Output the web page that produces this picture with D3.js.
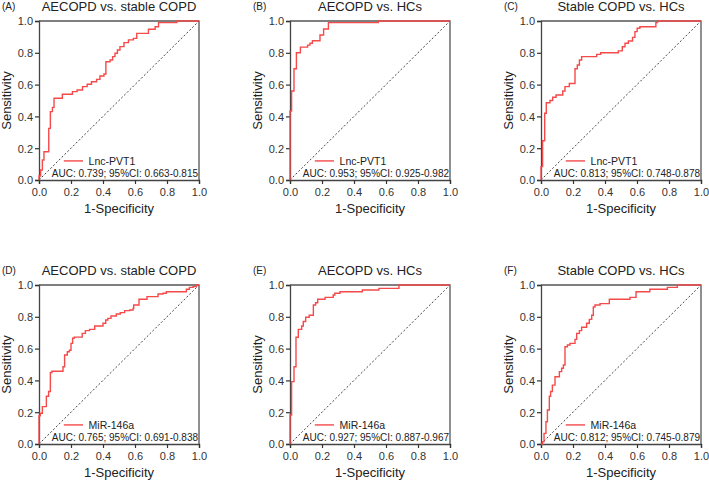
<!DOCTYPE html>
<html>
<head>
<meta charset="utf-8">
<script src="https://cdn.jsdelivr.net/npm/d3@7"></script>
<style>
    body { margin: 0; background: #fff; }
    text { font-family: "Liberation Sans", Arial, sans-serif; }
</style>
</head>
<body>
<div id="chart"></div>
<script>

// ROC curve step points, [1 - specificity, sensitivity]
const rocA = [[0,0],[0,0.025],[0.01,0.063],[0.021,0.126],[0.031,0.178],[0.061,0.325],[0.071,0.43],[0.084,0.457],[0.094,0.514],[0.146,0.539],[0.209,0.556],[0.238,0.566],[0.272,0.587],[0.301,0.602],[0.328,0.618],[0.36,0.633],[0.381,0.654],[0.406,0.667],[0.418,0.744],[0.444,0.755],[0.46,0.776],[0.475,0.797],[0.49,0.818],[0.506,0.839],[0.531,0.864],[0.559,0.881],[0.59,0.891],[0.611,0.922],[0.684,0.948],[0.726,0.964],[0.747,0.99],[0.862,1],[1,1]];
const rocB = [[0,0],[0,0.434],[0.01,0.56],[0.025,0.70],[0.04,0.80],[0.065,0.836],[0.11,0.848],[0.125,0.86],[0.14,0.876],[0.1875,0.912],[0.21,0.95],[0.24,0.99],[0.552,1],[1,1]];
const rocC = [[0,0],[0,0.084],[0.01,0.247],[0.023,0.42],[0.033,0.486],[0.056,0.50],[0.073,0.52],[0.094,0.535],[0.136,0.56],[0.15,0.587],[0.177,0.607],[0.2125,0.70],[0.227,0.723],[0.24,0.755],[0.254,0.776],[0.348,0.79],[0.373,0.80],[0.483,0.812],[0.508,0.838],[0.525,0.86],[0.546,0.874],[0.572,0.897],[0.587,0.933],[0.601,0.954],[0.618,0.964],[0.718,0.99],[0.728,1],[1,1]];
const rocD = [[0,0],[0,0.178],[0.008,0.193],[0.021,0.235],[0.046,0.30],[0.06,0.33],[0.071,0.45],[0.081,0.458],[0.15,0.486],[0.16,0.56],[0.177,0.58],[0.19,0.59],[0.2,0.633],[0.21,0.665],[0.22,0.672],[0.27,0.696],[0.29,0.713],[0.316,0.721],[0.348,0.742],[0.4,0.759],[0.417,0.78],[0.43,0.79],[0.45,0.805],[0.483,0.818],[0.508,0.826],[0.535,0.839],[0.567,0.843],[0.588,0.853],[0.592,0.874],[0.625,0.91],[0.675,0.927],[0.744,0.943],[0.775,0.948],[0.796,0.958],[0.921,0.973],[0.94,0.985],[0.963,0.99],[0.983,1],[1,1]];
const rocE = [[0,0],[0,0.182],[0.01,0.392],[0.025,0.486],[0.0375,0.671],[0.052,0.721],[0.073,0.742],[0.083,0.77],[0.098,0.797],[0.12,0.81],[0.146,0.874],[0.16,0.888],[0.173,0.91],[0.219,0.922],[0.27,0.937],[0.28,0.948],[0.3125,0.958],[0.452,0.969],[0.556,0.979],[0.681,1],[1,1]];
const rocF = [[0,0],[0.01,0.015],[0.019,0.067],[0.031,0.14],[0.04,0.214],[0.052,0.30],[0.06,0.33],[0.071,0.37],[0.0875,0.423],[0.115,0.455],[0.129,0.476],[0.14,0.497],[0.15,0.612],[0.165,0.623],[0.181,0.633],[0.2125,0.658],[0.223,0.696],[0.24,0.713],[0.254,0.734],[0.285,0.759],[0.302,0.784],[0.317,0.81],[0.327,0.862],[0.3375,0.874],[0.369,0.883],[0.427,0.91],[0.556,0.922],[0.594,0.958],[0.68,0.973],[0.79,0.985],[0.852,1],[1,1]];

const panelLabels = ["(A)", "(B)", "(C)", "(D)", "(E)", "(F)"];
const panelTitles = ["AECOPD vs. stable COPD", "AECOPD vs. HCs", "Stable COPD vs. HCs",
                     "AECOPD vs. stable COPD", "AECOPD vs. HCs", "Stable COPD vs. HCs"];
const markerNames = ["Lnc-PVT1", "Lnc-PVT1", "Lnc-PVT1", "MiR-146a", "MiR-146a", "MiR-146a"];
const aucTexts = ["AUC: 0.739; 95%CI: 0.663-0.815", "AUC: 0.953; 95%CI: 0.925-0.982",
                  "AUC: 0.813; 95%CI: 0.748-0.878", "AUC: 0.765; 95%CI: 0.691-0.838",
                  "AUC: 0.927; 95%CI: 0.887-0.967", "AUC: 0.812; 95%CI: 0.745-0.879"];
const rocCurves = [rocA, rocB, rocC, rocD, rocE, rocF];
const tickValues = [0, 0.2, 0.4, 0.6, 0.8, 1.0];

class RocVis {

    constructor(svg, left, top, i) {
        this.svg = svg;
        this.left = left;
        this.top = top;
        this.i = i;

        this.initVis();
    }

    initVis() {
        let vis = this;

        vis.width = 160;
        vis.height = 159;

        vis.g = vis.svg.append("g")
            .attr("transform", `translate(${vis.left}, ${vis.top})`);

        vis.x = d3.scaleLinear().domain([0, 1]).range([0, vis.width]);
        vis.y = d3.scaleLinear().domain([0, 1]).range([vis.height, 0]);

        // top / right frame
        vis.g.append("path")
            .attr("d", `M0,0H${vis.width}V${vis.height}`)
            .attr("fill", "none")
            .attr("stroke", "#555")
            .attr("stroke-width", 1.3);

        // axes
        vis.g.append("g")
            .attr("transform", `translate(0, ${vis.height})`)
            .call(d3.axisBottom(vis.x).tickValues(tickValues).tickFormat(d3.format(".1f")).tickSize(4).tickPadding(4))
            .call(g => vis.styleAxis(g));

        vis.g.append("g")
            .call(d3.axisLeft(vis.y).tickValues(tickValues).tickFormat(d3.format(".1f")).tickSize(4).tickPadding(2))
            .call(g => vis.styleAxis(g))
            .selectAll("text").attr("dy", "0.36em");

        // reference diagonal
        vis.g.append("line")
            .attr("x1", vis.x(0)).attr("y1", vis.y(0))
            .attr("x2", vis.x(1)).attr("y2", vis.y(1))
            .attr("stroke", "#444")
            .attr("stroke-width", 1)
            .attr("stroke-dasharray", "2,2");

        // titles
        vis.g.append("text")
            .attr("x", -37).attr("y", -11)
            .attr("font-size", 10)
            .attr("fill", "#222")
            .text(panelLabels[vis.i]);

        vis.g.append("text")
            .attr("x", vis.width / 2).attr("y", -10.5)
            .attr("text-anchor", "middle")
            .attr("font-size", 13)
            .attr("fill", "#222")
            .text(panelTitles[vis.i]);

        vis.g.append("text")
            .attr("transform", `translate(-28, ${vis.height / 2}) rotate(-90)`)
            .attr("text-anchor", "middle")
            .attr("font-size", 13)
            .attr("fill", "#222")
            .text("Sensitivity");

        vis.g.append("text")
            .attr("x", vis.width / 2).attr("y", vis.height + 33)
            .attr("text-anchor", "middle")
            .attr("font-size", 13)
            .attr("fill", "#222")
            .text("1-Specificity");

        vis.updateVis();
    }

    styleAxis(g) {
        g.attr("color", "#333");
        g.select(".domain").attr("stroke", "#444").attr("stroke-width", 1.3);
        g.selectAll(".tick line").attr("stroke-width", 1.2);
        g.selectAll("text")
            .attr("font-size", 11)
            .attr("font-family", "Liberation Sans, Arial, sans-serif");
    }

    updateVis() {
        let vis = this;

        let line = d3.line()
            .x(d => vis.x(d[0]))
            .y(d => vis.y(d[1]))
            .curve(d3.curveStepAfter);

        vis.g.append("path")
            .datum(rocCurves[vis.i])
            .attr("d", line)
            .attr("fill", "none")
            .attr("stroke", "#f44a4a")
            .attr("stroke-width", 1.4);

        // legend
        vis.g.append("line")
            .attr("x1", vis.x(0.155)).attr("x2", vis.x(0.275))
            .attr("y1", vis.y(0.12)).attr("y2", vis.y(0.12))
            .attr("stroke", "#f44a4a")
            .attr("stroke-width", 1.4);

        vis.g.append("text")
            .attr("x", vis.x(0.31)).attr("y", vis.y(0.12))
            .attr("dy", "0.35em")
            .attr("font-size", 10.5)
            .attr("fill", "#222")
            .text(markerNames[vis.i]);

        vis.g.append("text")
            .attr("x", vis.x(1) - 1).attr("y", vis.height - 3.3)
            .attr("text-anchor", "end")
            .attr("font-size", 10)
            .attr("fill", "#222")
            .text(aucTexts[vis.i]);
    }
}

const svg = d3.select("#chart").append("svg")
    .attr("width", 709)
    .attr("height", 484);

const lefts = [39, 290, 541];
const tops = [21, 285];

rocCurves.forEach((d, i) => {
    new RocVis(svg, lefts[i % 3], tops[Math.floor(i / 3)], i);
});

</script>
</body>
</html>
